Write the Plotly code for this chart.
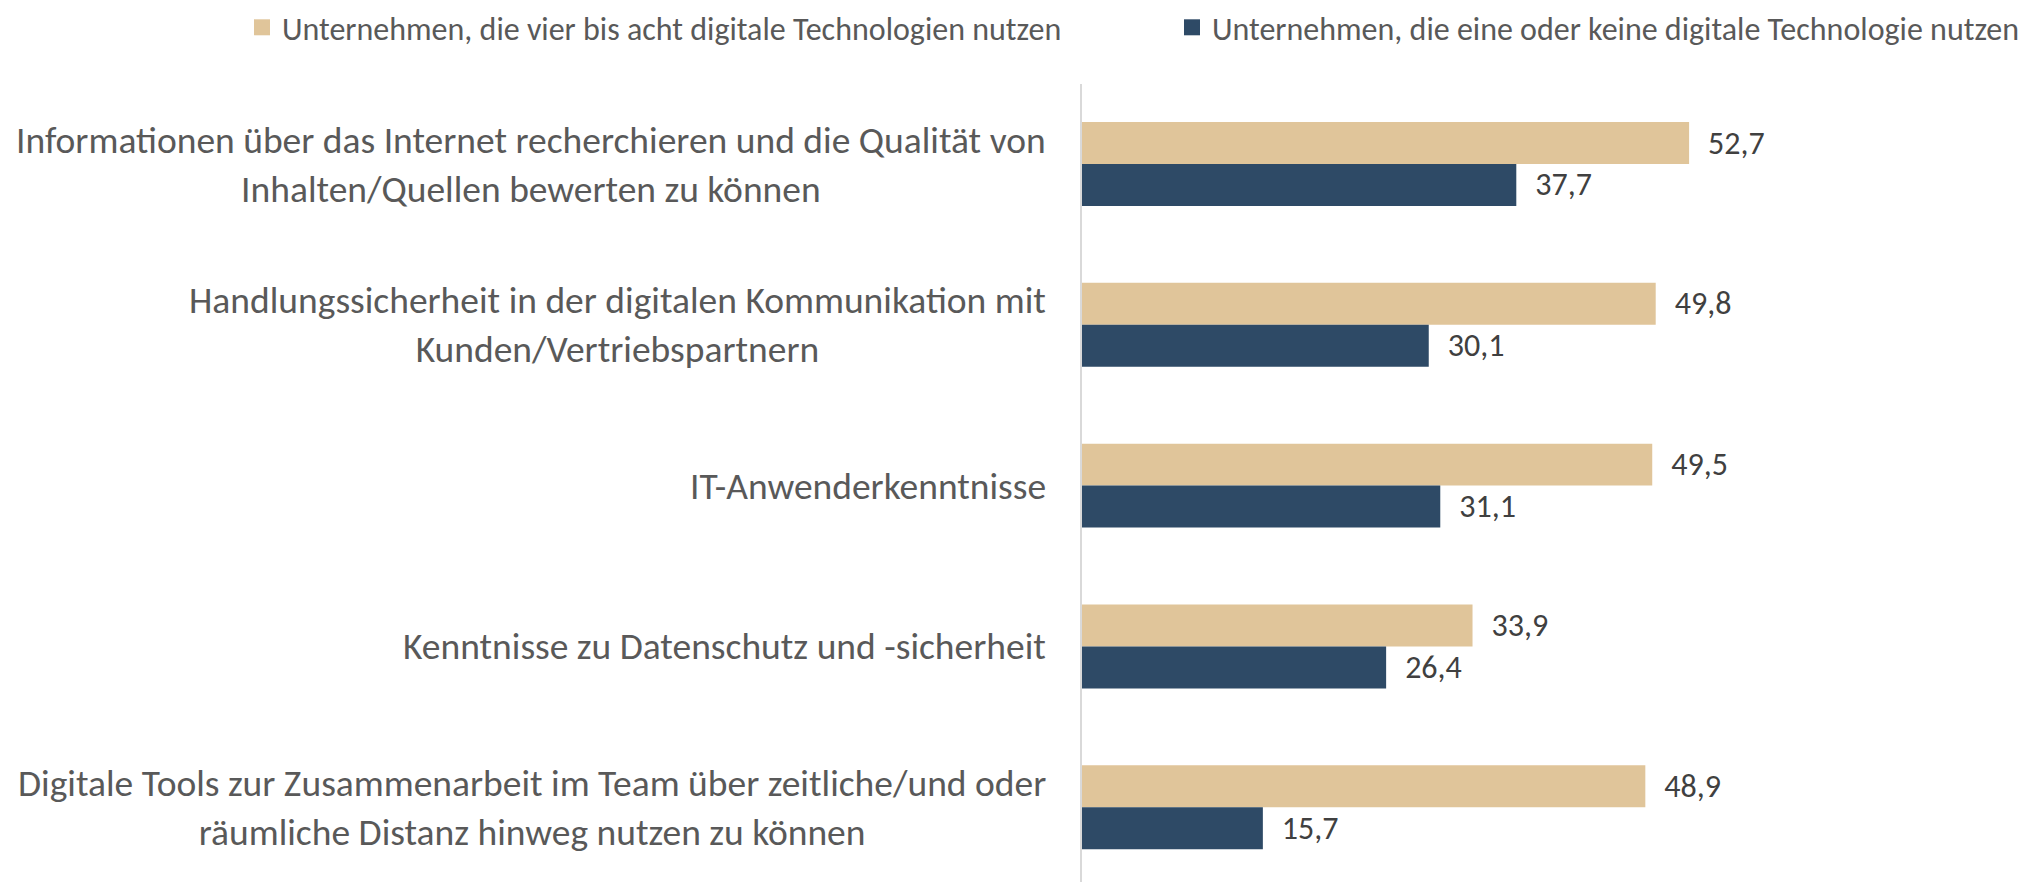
import plotly.graph_objects as go

categories = [
    "Informationen über das Internet recherchieren und die Qualität von<br>Inhalten/Quellen bewerten zu können",
    "Handlungssicherheit in der digitalen Kommunikation mit<br>Kunden/Vertriebspartnern",
    "IT-Anwenderkenntnisse",
    "Kenntnisse zu Datenschutz und -sicherheit",
    "Digitale Tools zur Zusammenarbeit im Team über zeitliche/und oder<br>räumliche Distanz hinweg nutzen zu können",
]
series_names = [
    "Unternehmen, die vier bis acht digitale Technologien nutzen",
    "Unternehmen, die eine oder keine digitale Technologie nutzen",
]
values_high = [52.7, 49.8, 49.5, 33.9, 48.9]
values_low = [37.7, 30.1, 31.1, 26.4, 15.7]
colors = ["#E0C59A", "#2E4A66"]

FONT = "Carlito, 'Liberation Sans Narrow', Lato, sans-serif"

def fmt(v):
    return "\u2002" + f"{v:.1f}".replace(".", ",")

W, H = 2029, 882
ml, mr, mt, mb = 1082, 30, 79, 0
pw = W - ml - mr
ph = H - mt - mb
PX_PER_UNIT = 11.52

fig = go.Figure()
legend_ids = ["legend", "legend2"]
for name, vals, col, lg in zip(series_names, [values_high, values_low], colors, legend_ids):
    fig.add_trace(go.Bar(
        y=categories, x=vals, orientation="h", name=name,
        marker=dict(color=col, line=dict(width=0)),
        text=[fmt(v) for v in vals], textposition="outside",
        textfont=dict(family=FONT, size=32, color="#404040"),
        cliponaxis=False, showlegend=False,
    ))
    # legend-only entry with a larger square swatch
    fig.add_trace(go.Scatter(
        x=[None], y=[None], mode="markers", name=name, legend=lg,
        marker=dict(symbol="square", size=16, color=col),
        showlegend=True, hoverinfo="skip",
    ))

for cat in categories:
    fig.add_annotation(
        x=0, y=cat, xref="x", yref="y", text=cat, showarrow=False,
        xanchor="right", yanchor="middle", align="center", xshift=-34,
        font=dict(family=FONT, size=37.5, color="#595959"),
    )

legend_common = dict(
    orientation="h", xanchor="left", yanchor="middle",
    y=1 + (mt - 22) / ph,
    font=dict(family=FONT, size=32, color="#595959"),
    itemwidth=30, itemsizing="trace", bgcolor="rgba(0,0,0,0)",
)

fig.update_layout(
    width=W, height=H,
    margin=dict(l=ml, r=mr, t=mt, b=mb, pad=0),
    paper_bgcolor="white", plot_bgcolor="white",
    barmode="group", bargap=0.478, bargroupgap=0,
    font=dict(family=FONT, color="#595959"),
    showlegend=True,
    legend=dict(legend_common, x=(242 - ml) / pw),
    legend2=dict(legend_common, x=(1172 - ml) / pw),
    xaxis=dict(range=[0, pw / PX_PER_UNIT], visible=False, fixedrange=True),
    yaxis=dict(
        range=[4.465, -0.4975], showticklabels=False, showgrid=False,
        zeroline=False, showline=True, linecolor="#D9D9D9", linewidth=2,
        ticks="", fixedrange=True,
    ),
)

fig.write_html(
    "out.html",
    config={"displayModeBar": False},
    post_script="document.body.style.margin='0';document.body.style.overflow='hidden';",
)
